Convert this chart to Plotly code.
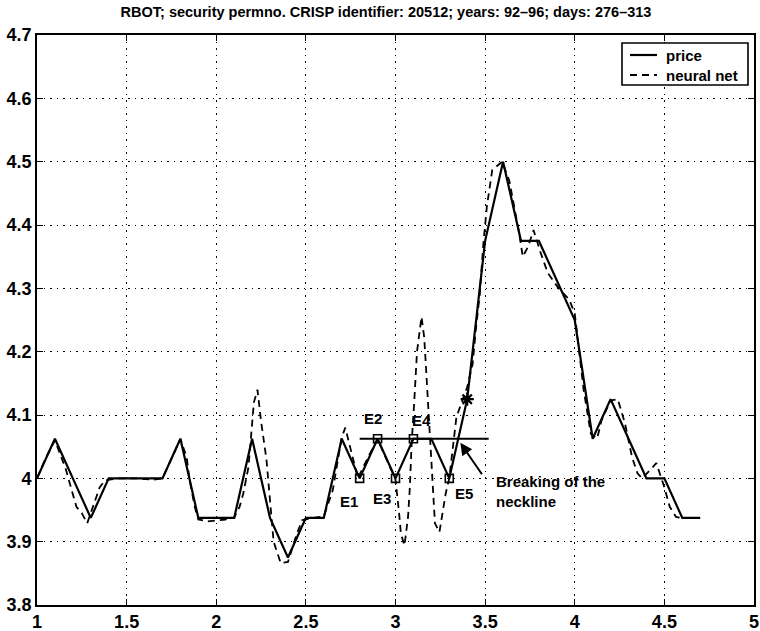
import plotly.graph_objects as go

# Daily closing price, days 276-313 (scaled time axis)
price_x = [1.0, 1.1, 1.2, 1.3, 1.4, 1.5, 1.6, 1.7, 1.8, 1.9,
           2.0, 2.1, 2.2, 2.3, 2.4, 2.5, 2.6, 2.7, 2.8, 2.9,
           3.0, 3.1, 3.2, 3.3, 3.4, 3.5, 3.6, 3.7, 3.8, 3.9,
           4.0, 4.1, 4.2, 4.3, 4.4, 4.5, 4.6, 4.7]
price_y = [4.0, 4.0625, 4.0, 3.9375, 4.0, 4.0, 4.0, 4.0, 4.0625, 3.9375,
           3.9375, 3.9375, 4.0625, 3.9375, 3.875, 3.9375, 3.9375, 4.0625, 4.0, 4.0625,
           4.0, 4.0625, 4.0625, 4.0, 4.125, 4.375, 4.5, 4.375, 4.375, 4.3125,
           4.25, 4.0625, 4.125, 4.0625, 4.0, 4.0, 3.9375, 3.9375]

# Neural-net approximation of the price curve
nn_x = [1.0, 1.05, 1.1, 1.16, 1.22, 1.25, 1.28, 1.32, 1.35, 1.38, 1.45, 1.55, 1.65, 1.7,
        1.75, 1.8, 1.835, 1.85, 1.88, 1.9, 1.95, 2.0, 2.05, 2.1, 2.13, 2.15, 2.18,
        2.21, 2.23, 2.25, 2.28, 2.30, 2.32, 2.36, 2.40, 2.45, 2.48, 2.55, 2.6,
        2.65, 2.68, 2.70, 2.72, 2.75, 2.79, 2.85, 2.9, 2.95, 3.0, 3.02, 3.03,
        3.05, 3.07, 3.08, 3.09, 3.105, 3.12, 3.145, 3.16, 3.17, 3.18, 3.19, 3.2,
        3.21, 3.22, 3.245, 3.26, 3.28, 3.3, 3.32, 3.34, 3.4, 3.43, 3.45, 3.47,
        3.49, 3.51, 3.54, 3.595, 3.635, 3.66, 3.69, 3.71, 3.74, 3.77, 3.81, 3.85,
        3.91, 3.97, 4.0, 4.05, 4.09, 4.125, 4.15, 4.2, 4.24, 4.28, 4.32, 4.35,
        4.375, 4.43, 4.455, 4.5, 4.53, 4.565, 4.6]
nn_y = [4.0, 4.033, 4.06, 4.015, 3.955, 3.945, 3.929, 3.96, 3.986, 3.997, 4.0, 4.0, 3.998, 4.0,
        4.03, 4.062, 4.033, 4.0, 3.955, 3.935, 3.932, 3.933, 3.935, 3.938, 3.955, 3.975, 4.018,
        4.12, 4.14, 4.09, 4.03, 3.965, 3.9, 3.866, 3.868, 3.913, 3.934, 3.938, 3.94,
        3.981, 4.03, 4.065, 4.08, 4.045, 4.0, 4.035, 4.062, 4.03, 3.998, 3.945, 3.913,
        3.894, 3.939, 3.986, 4.055, 4.123, 4.2, 4.255, 4.223, 4.176, 4.123, 4.071, 4.018,
        3.965, 3.929, 3.915, 3.939, 3.976, 4.0, 4.049, 4.097, 4.144, 4.18, 4.24, 4.29,
        4.37, 4.43, 4.487, 4.5, 4.47, 4.434, 4.387, 4.35, 4.366, 4.392, 4.356, 4.324,
        4.30, 4.282, 4.26, 4.139, 4.07, 4.063, 4.092, 4.123, 4.125, 4.087, 4.033, 4.008,
        4.0, 4.016, 4.024, 3.986, 3.955, 3.939, 3.937]

# Head-and-shoulders extrema E1..E5 and neckline
ext_labels = ["E1", "E2", "E3", "E4", "E5"]
ext_x = [2.8, 2.9, 3.0, 3.1, 3.3]
ext_y = [4.0, 4.0625, 4.0, 4.0625, 4.0]
ext_label_x = [2.743, 2.873, 2.925, 3.143, 3.384]
ext_label_y = [3.963, 4.094, 3.968, 4.091, 3.976]
neck_x = [2.8, 3.52]
neck_y = [4.0625, 4.0625]
break_x = [3.4]
break_y = [4.125]

x_ticks = [1, 1.5, 2, 2.5, 3, 3.5, 4, 4.5, 5]
x_tick_text = ["1", "1.5", "2", "2.5", "3", "3.5", "4", "4.5", "5"]
y_ticks = [3.8, 3.9, 4.0, 4.1, 4.2, 4.3, 4.4, 4.5, 4.6, 4.7]
y_tick_text = ["3.8", "3.9", "4", "4.1", "4.2", "4.3", "4.4", "4.5", "4.6", "4.7"]

legend_names = ["price", "neural net"]
title_text = "RBOT; security permno. CRISP identifier: 20512; years: 92\u201396; days: 276\u2013313"

FONT = "Liberation Sans, Arial, Helvetica, sans-serif"
NARROW = "Liberation Sans Narrow, Arial Narrow, Liberation Sans, sans-serif"

W, H = 760, 631
ML, MR, MT, MB = 37, 6, 35, 26
PW, PH = W - ML - MR, H - MT - MB


def px_x(p):
    return (p - ML) / PW


def px_y(p):
    return 1 - (p - MT) / PH


PRICE_LINE = dict(color="black", width=2.2)
NN_LINE = dict(color="black", width=1.8, dash="7px,5px")

fig = go.Figure()

fig.add_trace(go.Scatter(x=price_x, y=price_y, mode="lines", name=legend_names[0],
                         showlegend=False, line=PRICE_LINE))
fig.add_trace(go.Scatter(x=nn_x, y=nn_y, mode="lines", name=legend_names[1],
                         showlegend=False, line=NN_LINE))
fig.add_trace(go.Scatter(x=neck_x, y=neck_y, mode="lines", showlegend=False,
                         line=dict(color="black", width=2.2)))
fig.add_trace(go.Scatter(x=ext_x, y=ext_y, mode="markers", showlegend=False,
                         marker=dict(symbol="square-open", size=8, color="black",
                                     line=dict(width=1.6, color="black"))))
fig.add_trace(go.Scatter(x=break_x, y=break_y, mode="markers", showlegend=False,
                         marker=dict(symbol="asterisk-open", size=11, color="black",
                                     line=dict(width=2.2, color="black"))))

for lab, lx, ly in zip(ext_labels, ext_label_x, ext_label_y):
    fig.add_annotation(x=lx, y=ly, text=lab, showarrow=False,
                       font=dict(family=FONT, size=15, color="black", weight="bold"))

fig.add_annotation(x=3.55, y=3.979, text="Breaking of the<br>neckline", showarrow=False,
                   xanchor="left", yanchor="middle", align="left",
                   font=dict(family=FONT, size=15, color="black", weight="bold"))
fig.add_annotation(x=3.362, y=4.056, ax=3.488, ay=4.004, axref="x", ayref="y",
                   xref="x", yref="y", text="", showarrow=True,
                   arrowhead=2, arrowsize=1.2, arrowwidth=2, arrowcolor="black")

# Boxed legend in the upper-right corner of the axes
fig.add_shape(type="rect", xref="paper", yref="paper",
              x0=px_x(622), x1=px_x(748), y0=px_y(85), y1=px_y(43),
              line=dict(color="black", width=1.6), fillcolor="white", layer="above")
for name, style, yy in zip(legend_names, [PRICE_LINE, NN_LINE], [55, 75]):
    fig.add_shape(type="line", xref="paper", yref="paper",
                  x0=px_x(630), x1=px_x(657), y0=px_y(yy), y1=px_y(yy),
                  line=style, layer="above")
    fig.add_annotation(xref="paper", yref="paper", x=px_x(664), y=px_y(yy),
                       text=name, showarrow=False, xanchor="left", yanchor="middle",
                       font=dict(family=FONT, size=15, color="black", weight="bold"))

axis_common = dict(showline=True, linecolor="black", linewidth=1.6, mirror="ticks",
                   ticks="inside", ticklen=6, tickwidth=1.3, tickcolor="black",
                   showgrid=True, gridcolor="black", gridwidth=1.4, griddash="1.5px,5px",
                   zeroline=False, automargin=False,
                   tickfont=dict(family=NARROW, size=18, color="black", weight="bold"))

fig.update_xaxes(range=[1, 5], tickvals=x_ticks, ticktext=x_tick_text, **axis_common)
fig.update_yaxes(range=[3.8, 4.7], tickvals=y_ticks, ticktext=y_tick_text, **axis_common)

fig.update_layout(
    width=W, height=H,
    margin=dict(l=ML, r=MR, t=MT, b=MB),
    paper_bgcolor="white", plot_bgcolor="white",
    title=dict(text=title_text, x=386 / W, xanchor="center",
               y=1 - 12 / H, yanchor="middle",
               font=dict(family=FONT, size=14.5, color="black", weight="bold")),
    showlegend=False,
)

fig.write_html("out.html")
